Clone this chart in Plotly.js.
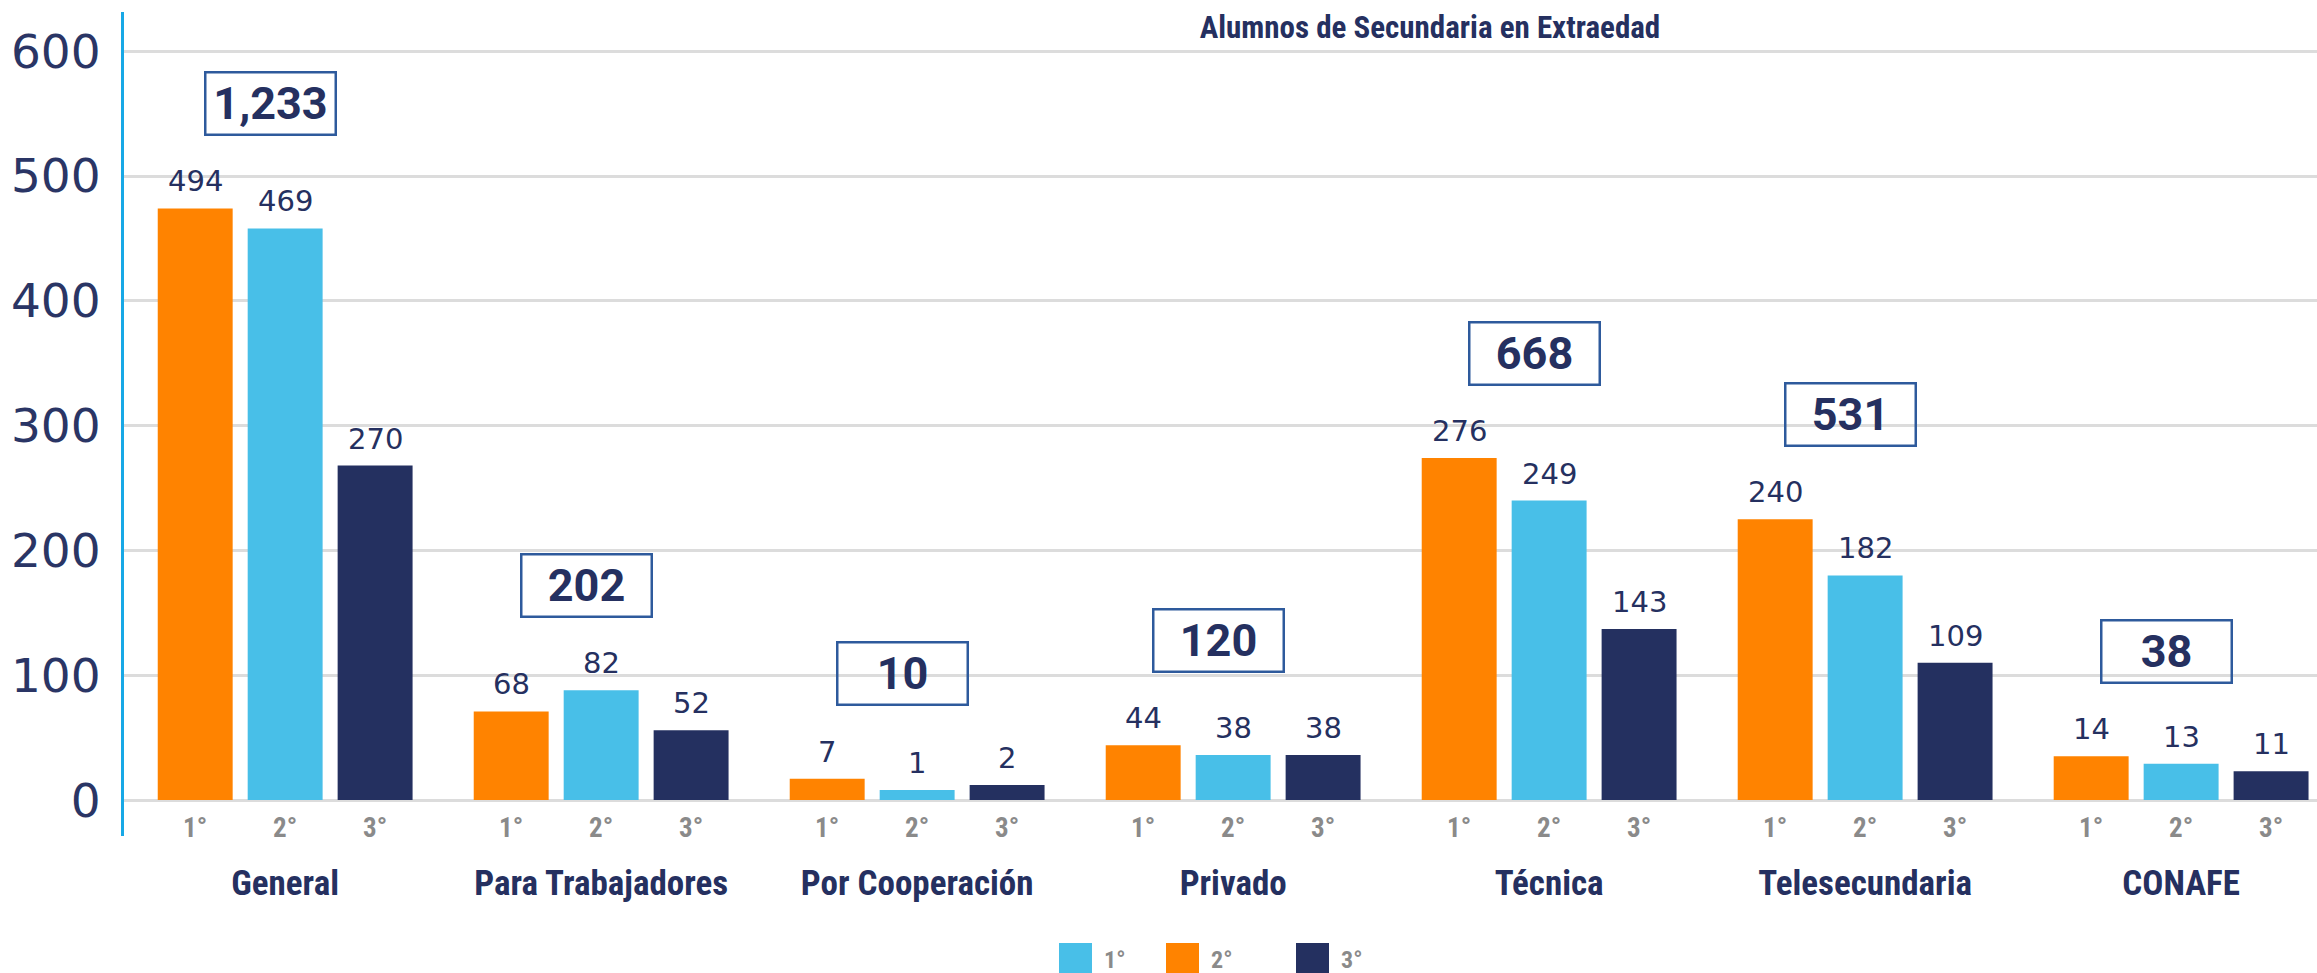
<!DOCTYPE html>
<html>
<head>
<meta charset="utf-8">
<script src="https://cdn.plot.ly/plotly-3.0.1.min.js"></script>
<style>
  html, body { margin: 0; padding: 0; background: #ffffff; }
  #chart { width: 2317px; height: 973px; }
</style>
</head>
<body>
<div id="chart"></div>
<script>
// ---------- data ----------
const groups = ['General', 'Para Trabajadores', 'Por Cooperación', 'Privado', 'Técnica', 'Telesecundaria', 'CONAFE'];
const grades = ['1°', '2°', '3°'];
// numbers printed above the bars
const printed1 = [494, 68, 7, 44, 276, 240, 14];
const printed2 = [469, 82, 1, 38, 249, 182, 13];
const printed3 = [270, 52, 2, 38, 143, 109, 11];
// bar heights as drawn against the y axis
const bars1 = [474, 71, 17, 44, 274, 225, 35];
const bars2 = [458, 88, 8, 36, 240, 180, 29];
const bars3 = [268, 56, 12, 36, 137, 110, 23];
const yTickVals = [0, 100, 200, 300, 400, 500, 600];
const legendLabels = ['1°', '2°', '3°'];

// ---------- style ----------
const barColors = ['#FF8300', '#48BFE8', '#243060'];
const legendColors = ['#48BFE8', '#FF8300', '#243060'];
const navy = '#253060';
const narrow = "'Liberation Sans Narrow', 'Roboto Condensed', Roboto, sans-serif";
const wide = "'DejaVu Sans', sans-serif";

const W = 2317, H = 973;
const M = { l: 124, r: 0, t: 12, b: 137 };
const bargap = 0.146, bargroupgap = 0.167;
const slot = (1 - bargap) / 3;

const barsAll = [bars1, bars2, bars3];
const printedAll = [printed1, printed2, printed3];

const traces = barsAll.map((vals, k) => ({
  type: 'bar',
  name: grades[k],
  x: groups,
  y: vals,
  marker: { color: barColors[k] },
  showlegend: false,
  hoverinfo: 'skip'
}));

const annotations = [];
// value labels above bars and grade labels under bars
barsAll.forEach((vals, k) => {
  vals.forEach((v, i) => {
    const xpos = i + (k - 1) * slot;
    annotations.push({
      x: xpos, y: v, xref: 'x', yref: 'y',
      text: String(printedAll[k][i]),
      showarrow: false, yanchor: 'middle', yshift: 27,
      font: { family: wide, size: 29, color: navy }
    });
    annotations.push({
      x: xpos, y: 0, xref: 'x', yref: 'y',
      text: grades[k],
      showarrow: false, yanchor: 'middle', yshift: -28,
      font: { family: narrow, size: 27, color: '#8a8a8a', weight: 'bold' }
    });
  });
});
// total boxes
groups.forEach((g, i) => {
  const total = printed1[i] + printed2[i] + printed3[i];
  const top = Math.max(bars1[i], bars2[i], bars3[i]);
  annotations.push({
    x: i, y: top, xref: 'x', yref: 'y',
    text: '<b>' + total.toLocaleString('en-US') + '</b>',
    showarrow: false, yanchor: 'middle', xanchor: 'center',
    xshift: -15, yshift: 105,
    width: 128, height: 60, borderpad: 0,
    bordercolor: '#2E5A9C', borderwidth: 2.5, bgcolor: 'rgba(255,255,255,0)',
    align: 'center', valign: 'middle',
    font: { family: "Roboto, sans-serif", size: 45, color: navy }
  });
});

// custom legend (large squares)
const plotW = W - M.l - M.r, plotH = H - M.t - M.b;
const px2x = p => (p - M.l) / plotW;
const px2y = p => (H - M.b - p) / plotH;
const legendStart = [1059, 1166, 1296];
const sq = 33, legendTop = 943;
const shapes = [];
legendLabels.forEach((lab, k) => {
  shapes.push({
    type: 'rect', xref: 'paper', yref: 'paper',
    x0: px2x(legendStart[k]), x1: px2x(legendStart[k] + sq),
    y0: px2y(legendTop), y1: px2y(legendTop + sq),
    fillcolor: legendColors[k], line: { width: 0 }
  });
  annotations.push({
    xref: 'paper', yref: 'paper',
    x: px2x(legendStart[k] + sq + 10), y: px2y(legendTop + 17),
    xanchor: 'left', yanchor: 'middle', showarrow: false,
    text: lab,
    font: { family: narrow, size: 24, color: '#8a8a8a', weight: 'bold' }
  });
});

const layout = {
  width: W, height: H,
  margin: M,
  paper_bgcolor: '#ffffff', plot_bgcolor: '#ffffff',
  barmode: 'group', bargap: bargap, bargroupgap: bargroupgap,
  title: {
    text: 'Alumnos de Secundaria en Extraedad',
    xref: 'paper', x: px2x(1430), xanchor: 'center',
    yref: 'container', y: 1 - 27 / H, yanchor: 'middle',
    font: { family: narrow, size: 31, color: navy, weight: 'bold' }
  },
  xaxis: {
    type: 'category',
    range: [-0.51, 6.43],
    showgrid: false, zeroline: false, showline: false,
    ticks: '', ticklabelstandoff: 23,
    tickfont: { family: narrow, size: 35, color: navy, weight: 'bold' }
  },
  yaxis: {
    range: [-28.8, 631.4],
    tickvals: yTickVals,
    ticktext: yTickVals.map(String),
    showgrid: true, gridcolor: '#dcdcdc', gridwidth: 3,
    zeroline: false,
    showline: true, linecolor: '#17A8E6', linewidth: 3,
    ticks: '', ticklabelstandoff: 11,
    tickfont: { family: wide, size: 47, color: '#2a3565' }
  },
  annotations: annotations,
  shapes: shapes,
  showlegend: false
};

Plotly.newPlot('chart', traces, layout, { displayModeBar: false, staticPlot: true });
</script>
</body>
</html>
